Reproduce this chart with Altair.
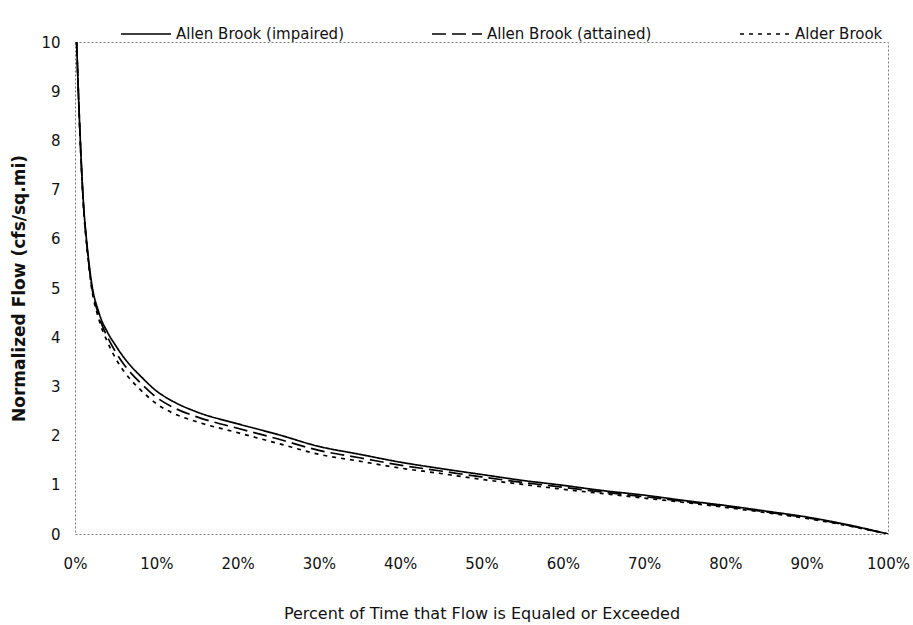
import altair as alt
import pandas as pd

# Percent of time flow is equaled or exceeded
pct = [0.2, 0.5, 1, 1.5, 2, 3, 4, 5, 6, 7, 8, 10, 12, 15, 20, 25, 30, 35, 40, 45,
       50, 55, 60, 65, 70, 75, 80, 85, 90, 95, 100]

# Normalized flow (cfs/sq.mi)
impaired = [10.0, 8.62, 6.83, 5.84, 5.15, 4.47, 4.10, 3.83, 3.59, 3.39, 3.22, 2.91, 2.70,
            2.48, 2.24, 2.02, 1.78, 1.62, 1.46, 1.33, 1.21, 1.09, 0.99, 0.88, 0.79, 0.68,
            0.58, 0.465, 0.345, 0.19, 0.0]
attained = [10.0, 8.60, 6.80, 5.80, 5.10, 4.40, 4.00, 3.70, 3.45, 3.25, 3.08, 2.78, 2.58,
            2.38, 2.15, 1.93, 1.70, 1.55, 1.40, 1.28, 1.16, 1.05, 0.95, 0.85, 0.76, 0.66,
            0.56, 0.45, 0.33, 0.18, 0.0]
alder = [10.0, 8.58, 6.77, 5.76, 5.05, 4.33, 3.90, 3.57, 3.31, 3.11, 2.94, 2.65, 2.46,
         2.28, 2.06, 1.84, 1.62, 1.48, 1.34, 1.23, 1.11, 1.01, 0.91, 0.82, 0.73, 0.64,
         0.54, 0.435, 0.315, 0.17, 0.0]

series_names = ["Allen Brook (impaired)", "Allen Brook (attained)", "Alder Brook"]
series_values = [impaired, attained, alder]
x_ticks = [0, 10, 20, 30, 40, 50, 60, 70, 80, 90, 100]
y_ticks = [0, 1, 2, 3, 4, 5, 6, 7, 8, 9, 10]

rows = []
for name, vals in zip(series_names, series_values):
    for i, (p, v) in enumerate(zip(pct, vals)):
        rows.append({"pct": p, "flow": v, "series": name, "order": i})
df = pd.DataFrame(rows)

common_axis = dict(grid=False, ticks=False, domain=False, labelFlush=False,
                   labelFont="DejaVu Sans", labelFontSize=15, labelColor="#111",
                   titleFont="DejaVu Sans", titleColor="#111")

chart = alt.Chart(df).mark_line(
    color="black", strokeWidth=1.7, interpolate="monotone", clip=True
).encode(
    x=alt.X("pct:Q",
            scale=alt.Scale(domain=[0, 100], nice=False, zero=False),
            axis=alt.Axis(values=x_ticks, labelExpr="datum.value + '%'",
                          title="Percent of Time that Flow is Equaled or Exceeded",
                          labelPadding=22, titlePadding=34,
                          titleFontSize=16, titleFontWeight="normal",
                          **common_axis)),
    y=alt.Y("flow:Q",
            scale=alt.Scale(domain=[0, 10], nice=False),
            axis=alt.Axis(values=y_ticks, title="Normalized  Flow  (cfs/sq.mi)",
                          labelPadding=15, titlePadding=12,
                          titleFontSize=17, titleFontWeight="bold",
                          **common_axis)),
    strokeDash=alt.StrokeDash(
        "series:N",
        scale=alt.Scale(domain=series_names, range=[[1, 0], [14, 6], [4, 5]]),
        legend=alt.Legend(title=None, orient="none", legendX=45, legendY=-34,
                          direction="horizontal", symbolType="stroke",
                          symbolSize=2500, symbolStrokeWidth=1.5,
                          symbolStrokeColor="black", labelOffset=4,
                          columnPadding=85, padding=0,
                          labelFont="DejaVu Sans", labelFontSize=15,
                          labelColor="#111", labelLimit=400)),
    detail="series:N",
    order="order:Q",
).properties(
    width=813, height=492,
    background="white",
    autosize=alt.AutoSizeParams(type="none"),
    padding={"left": 75, "top": 42, "right": 25, "bottom": 91},
).configure_view(
    stroke="#777", strokeWidth=1, strokeDash=[2, 2]
)

chart.save("out.html", embed_options={"renderer": "svg", "actions": False})
